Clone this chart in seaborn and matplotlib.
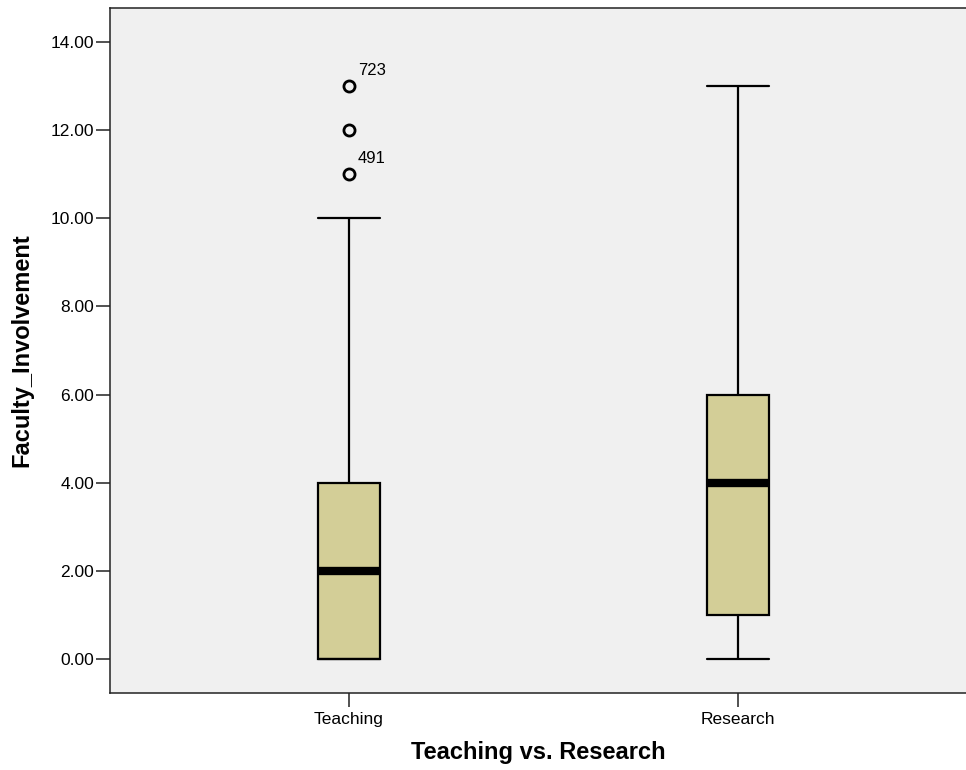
import matplotlib
matplotlib.use("Agg")
import matplotlib.pyplot as plt
import seaborn as sns
import pandas as pd
from matplotlib.ticker import FormatStrFormatter

# Data (constructed to reproduce the box statistics)
categories = ["Teaching", "Research"]
teaching_values = [0, 0, 0, 0, 0, 0, 1, 1, 2, 2, 2, 3, 3, 3, 4, 4, 5, 10, 11, 12, 13]
research_values = [0, 1, 1, 1, 1, 1, 2, 3, 3, 4, 4, 4, 5, 5, 6, 6, 8, 9, 10, 12, 13]
outlier_labels = [("Teaching", 13, "723"), ("Teaching", 11, "491")]
y_ticks = [0, 2, 4, 6, 8, 10, 12, 14]

df = pd.DataFrame({
    "group": ["Teaching"] * len(teaching_values) + ["Research"] * len(research_values),
    "value": teaching_values + research_values,
})

sns.set_theme(style="ticks")
plt.rcParams["font.family"] = ["Liberation Sans", "DejaVu Sans"]
plt.rcParams["text.color"] = "black"
plt.rcParams["axes.labelcolor"] = "black"

fig = plt.figure(figsize=(9.66, 7.70), dpi=100)
ax = fig.add_axes([110 / 966, 77 / 770, 1 - 110 / 966, (693 - 8) / 770])
ax.set_facecolor("#F0F0F0")

box_w = 0.16
kw = dict(
    data=df, x="group", y="value", order=categories, ax=ax,
    color="#D3CE97", width=box_w, linewidth=2, linecolor="black",
    saturation=1,
    boxprops=dict(edgecolor="black", linewidth=1.6, facecolor="#D3CE97"),
    medianprops=dict(color="black", linewidth=6, solid_capstyle="butt"),
    whiskerprops=dict(color="black", linewidth=1.6),
    capprops=dict(color="black", linewidth=1.6),
    flierprops=dict(marker="o", markerfacecolor="none", markeredgecolor="black",
                    markersize=8, markeredgewidth=2),
)
try:
    sns.boxplot(capwidths=box_w, **kw)
except TypeError:
    ax.cla()
    ax.set_facecolor("#F0F0F0")
    sns.boxplot(**kw)

for cat, val, lab in outlier_labels:
    ax.annotate(lab, xy=(categories.index(cat), val), xytext=(6.5, 8),
                textcoords="offset points", ha="left", va="baseline",
                fontsize=12, color="black")

ax.set_xlim(-(349 - 110) / 389, 1 + (966 - 738) / 389)
ax.set_ylim(-0.77, 14.77)
ax.set_yticks(y_ticks)
ax.yaxis.set_major_formatter(FormatStrFormatter("%.2f"))

ax.spines["right"].set_visible(False)
for s in ["left", "bottom", "top"]:
    ax.spines[s].set_color("#222222")
    ax.spines[s].set_linewidth(1.1)
ax.tick_params(axis="both", direction="out", length=10, width=1.1,
               color="#222222", labelsize=12.5, labelcolor="black")
ax.tick_params(axis="y", pad=1.5)
ax.tick_params(axis="x", pad=4)

ax.set_xlabel("Teaching vs. Research", fontsize=17, fontweight="bold", labelpad=10)
ax.set_ylabel("Faculty_Involvement", fontsize=17, fontweight="bold", labelpad=12)

fig.savefig("out.png", dpi=100)
